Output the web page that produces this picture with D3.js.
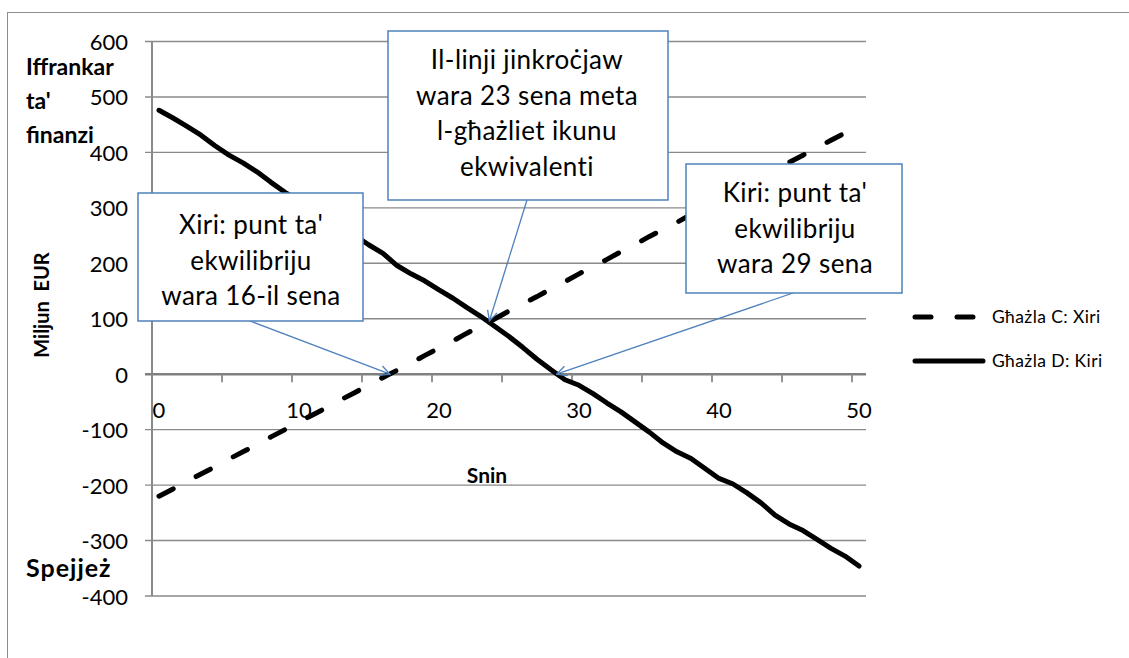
<!DOCTYPE html>
<html>
<head>
<meta charset="utf-8">
<script src="https://cdn.jsdelivr.net/npm/d3@7"></script>
<style>
  html, body { margin: 0; padding: 0; background: #fff; }
  svg { display: block; font-family: Lato, "Open Sans", sans-serif; }
</style>
</head>
<body>
<svg id="chart" width="1129" height="658"></svg>
<script>
// ---- data ----
const years = [0,1,2,3,4,5,6,7,8,9,10,11,12,13,14,15,16,17,18,19,20,21,22,23,24,25,26,27,28,29,30,31,32,33,34,35,36,37,38,39,40,41,42,43,44,45,46,47,48,49,50];
const seriesC = [-220,-207,-193,-180,-167,-153,-140,-127,-113,-100,-86,-73,-60,-46,-33,-19,-6,7,20,34,47,60,74,87,100,114,127,140,154,167,181,194,207,221,234,248,261,274,288,301,315,328,341,355,368,382,395,408,422,435,448];
const seriesD = [476,462,447,431,412,395,381,365,346,328,313,298,283,268,250,233,218,196,181,168,152,137,120,104,86,68,48,27,8,-10,-20,-35,-52,-68,-86,-104,-124,-140,-152,-170,-188,-198,-214,-232,-254,-270,-282,-298,-314,-328,-346];
const seriesNames = ["Għażla C: Xiri", "Għażla D: Kiri"];
const yTicks = [-400,-300,-200,-100,0,100,200,300,400,500,600];
const xTickYears = [0,5,10,15,20,25,30,35,40,45,50];
const xLabelYears = [0,10,20,30,40,50];
const yTopLabel = ["Iffrankar", "ta'", "finanzi"];
const yBottomLabel = "Spejjeż";
const yAxisTitle = "Miljun  EUR";
const xAxisTitle = "Snin";
const notes = [
  { lines: ["Xiri: punt ta'", "ekwilibriju", "wara 16-il sena"], year: 16.5, value: 0 },
  { lines: ["Il-linji jinkroċjaw", "wara 23 sena meta", "l-għażliet ikunu", "ekwivalenti"], year: 23.6, value: 96 },
  { lines: ["Kiri: punt ta'", "ekwilibriju", "wara 29 sena"], year: 28.4, value: 0 }
];

// ---- layout ----
const svg = d3.select("#chart");
const gridColor = "#8a8a8a";
const boxColor = "#4f81bd";

const x = d3.scaleBand().domain(years).range([152, 866]).padding(0);
const xc = v => x(0) + x.bandwidth() * (v + 0.5);
const y = d3.scaleLinear().domain([-400, 600]).range([596, 41.5]);

// outer frame
svg.append("rect").attr("x", 7.5).attr("y", 12.5).attr("width", 1140).attr("height", 660)
  .attr("fill", "none").attr("stroke", "#8c8c8c").attr("stroke-width", 1);

// gridlines
svg.append("g").selectAll("line").data(yTicks.filter(t => t !== 0)).join("line")
  .attr("x1", 145).attr("x2", 866)
  .attr("y1", d => y(d)).attr("y2", d => y(d))
  .attr("stroke", gridColor).attr("stroke-width", 1.4);

// y axis line
svg.append("line").attr("x1", 152).attr("x2", 152).attr("y1", y(600)).attr("y2", y(-400))
  .attr("stroke", gridColor).attr("stroke-width", 2);

// x axis at zero
svg.append("line").attr("x1", 145).attr("x2", 866).attr("y1", y(0)).attr("y2", y(0))
  .attr("stroke", "#808080").attr("stroke-width", 2.6);
svg.append("g").selectAll("line").data(xTickYears).join("line")
  .attr("x1", d => x(d)).attr("x2", d => x(d))
  .attr("y1", y(0)).attr("y2", y(0) + 8)
  .attr("stroke", gridColor).attr("stroke-width", 1.8);

// y tick labels
svg.append("g").selectAll("text").data(yTicks).join("text")
  .attr("x", 128).attr("y", d => y(d) + 8.5)
  .attr("text-anchor", "end").attr("font-size", 22).attr("fill", "#000")
  .text(d => d);

// x tick labels
svg.append("g").selectAll("text").data(xLabelYears).join("text")
  .attr("x", d => xc(d)).attr("y", 418)
  .attr("text-anchor", "middle").attr("font-size", 22).attr("fill", "#000")
  .text(d => d);

// side labels
svg.append("g").selectAll("text").data(yTopLabel).join("text")
  .attr("x", 26).attr("y", (d, i) => 75 + i * 34)
  .attr("font-size", 23).attr("font-weight", "bold").text(d => d);
svg.append("text").attr("x", 26).attr("y", 577)
  .attr("font-size", 25).attr("font-weight", "bold").attr("letter-spacing", 1)
  .text(yBottomLabel);
svg.append("text").attr("transform", "translate(49,305) rotate(-90)")
  .attr("text-anchor", "middle").attr("font-size", 20).attr("font-weight", "bold")
  .attr("xml:space", "preserve").text(yAxisTitle);
svg.append("text").attr("x", 487).attr("y", 483).attr("text-anchor", "middle")
  .attr("font-size", 21).attr("font-weight", "bold").text(xAxisTitle);

// series lines
const line = d3.line().x((d, i) => xc(years[i])).y(d => y(d));
svg.append("path").datum(seriesC).attr("d", line)
  .attr("fill", "none").attr("stroke", "#000").attr("stroke-width", 5)
  .attr("stroke-linecap", "round").attr("stroke-dasharray", "16,26");
svg.append("path").datum(seriesD).attr("d", line)
  .attr("fill", "none").attr("stroke", "#000").attr("stroke-width", 5)
  .attr("stroke-linecap", "round").attr("stroke-linejoin", "round");

// annotation boxes with arrows
const boxes = [
  { x: 138, y: 193, w: 225, h: 128, cx: 251, ly: 234, from: [250, 321] },
  { x: 388, y: 31, w: 280, h: 169, cx: 527, ly: 69, from: [527, 200] },
  { x: 686, y: 164, w: 216, h: 129, cx: 795, ly: 202, from: [793, 293] }
];
const defs = svg.append("defs");
defs.append("marker").attr("id", "arr").attr("viewBox", "0 0 12 12")
  .attr("refX", 11).attr("refY", 6).attr("markerWidth", 12).attr("markerHeight", 12)
  .attr("markerUnits", "userSpaceOnUse").attr("orient", "auto")
  .append("path").attr("d", "M1,1 L11,6 L1,11").attr("fill", "none")
  .attr("stroke", boxColor).attr("stroke-width", 1.3);

boxes.forEach((b, i) => {
  const n = notes[i];
  const g = svg.append("g");
  g.append("line").attr("x1", b.from[0]).attr("y1", b.from[1])
    .attr("x2", xc(n.year)).attr("y2", y(n.value))
    .attr("stroke", boxColor).attr("stroke-width", 1.3).attr("marker-end", "url(#arr)");
  g.append("rect").attr("x", b.x).attr("y", b.y).attr("width", b.w).attr("height", b.h)
    .attr("fill", "#fff").attr("stroke", boxColor).attr("stroke-width", 1.5);
  g.selectAll("text").data(n.lines).join("text")
    .attr("x", b.cx).attr("y", (d, k) => b.ly + k * 35.5)
    .attr("text-anchor", "middle").attr("font-size", 26).attr("letter-spacing", 0.4)
    .attr("fill", "#000")
    .text(d => d);
});

// legend
const lg = svg.append("g");
lg.append("line").attr("x1", 915).attr("x2", 982).attr("y1", 317).attr("y2", 317)
  .attr("stroke", "#000").attr("stroke-width", 5).attr("stroke-linecap", "round")
  .attr("stroke-dasharray", "16,26");
lg.append("line").attr("x1", 915).attr("x2", 983).attr("y1", 361).attr("y2", 361)
  .attr("stroke", "#000").attr("stroke-width", 5).attr("stroke-linecap", "round");
lg.selectAll("text").data(seriesNames).join("text")
  .attr("x", 992).attr("y", (d, i) => 323 + i * 44)
  .attr("font-size", 17.5).attr("letter-spacing", 0.4).attr("fill", "#000").text(d => d);
</script>
</body>
</html>
